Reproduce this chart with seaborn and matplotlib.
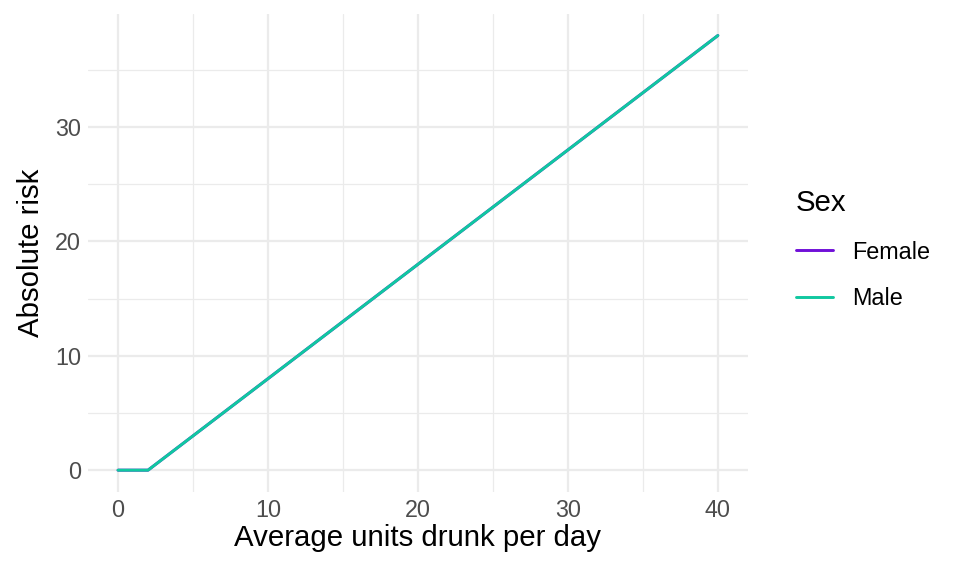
import numpy as np
import pandas as pd
import matplotlib.pyplot as plt
import seaborn as sns
from matplotlib.ticker import MultipleLocator

# units drunk per day and absolute risk
units = [0, 1, 2, 3, 4, 5, 6, 7, 8, 9, 10, 11, 12, 13, 14, 15, 16, 17, 18, 19, 20,
         21, 22, 23, 24, 25, 26, 27, 28, 29, 30, 31, 32, 33, 34, 35, 36, 37, 38, 39, 40]
risk_female = [0, 0, 0, 1, 2, 3, 4, 5, 6, 7, 8, 9, 10, 11, 12, 13, 14, 15, 16, 17, 18,
               19, 20, 21, 22, 23, 24, 25, 26, 27, 28, 29, 30, 31, 32, 33, 34, 35, 36, 37, 38]
risk_male = [0, 0, 0, 1, 2, 3, 4, 5, 6, 7, 8, 9, 10, 11, 12, 13, 14, 15, 16, 17, 18,
             19, 20, 21, 22, 23, 24, 25, 26, 27, 28, 29, 30, 31, 32, 33, 34, 35, 36, 37, 38]
sexes = ["Female", "Male"]
colours = {"Female": "#7010D8", "Male": "#10C8A0"}

df = pd.concat([
    pd.DataFrame({"units": units, "risk": risk_female, "Sex": "Female"}),
    pd.DataFrame({"units": units, "risk": risk_male, "Sex": "Male"}),
])

sns.set_theme(style="white")
plt.rcParams['font.family'] = ['Liberation Sans', 'DejaVu Sans']

fig = plt.figure(figsize=(10, 6), dpi=96)
ax = fig.add_axes([0.0917, 0.146, 0.779 - 0.0917, 0.976 - 0.146])

sns.lineplot(data=df, x="units", y="risk", hue="Sex", hue_order=sexes,
             palette=colours, linewidth=2.2, ax=ax, legend=False)

ax.set_xlim(-2, 42)
ax.set_ylim(-1.9, 39.9)
ax.xaxis.set_major_locator(MultipleLocator(10))
ax.xaxis.set_minor_locator(MultipleLocator(5))
ax.yaxis.set_major_locator(MultipleLocator(10))
ax.yaxis.set_minor_locator(MultipleLocator(5))
ax.grid(which="major", color="#EBEBEB", linewidth=1.7)
ax.grid(which="minor", color="#EBEBEB", linewidth=0.9)
ax.set_axisbelow(True)
for s in ax.spines.values():
    s.set_visible(False)
ax.tick_params(which="both", length=0, labelsize=17.5, labelcolor="#4D4D4D", pad=5)
ax.set_xlabel("Average units drunk per day", fontsize=22, color="black", labelpad=2)
ax.set_ylabel("Absolute risk", fontsize=22, color="black", labelpad=8)

handles = [plt.Line2D([], [], color=colours[s], linewidth=2.2) for s in sexes]
leg = fig.legend(handles, sexes, title="Sex", loc="upper left",
                 bbox_to_anchor=(0.807, 0.708), frameon=False,
                 fontsize=17.5, title_fontsize=22, handlelength=1.6,
                 labelspacing=1.0, handletextpad=0.8)
leg._legend_box.align = "left"
leg.get_title().set_color("black")
for t in leg.get_texts():
    t.set_color("black")

fig.savefig("out.png", dpi=96)
